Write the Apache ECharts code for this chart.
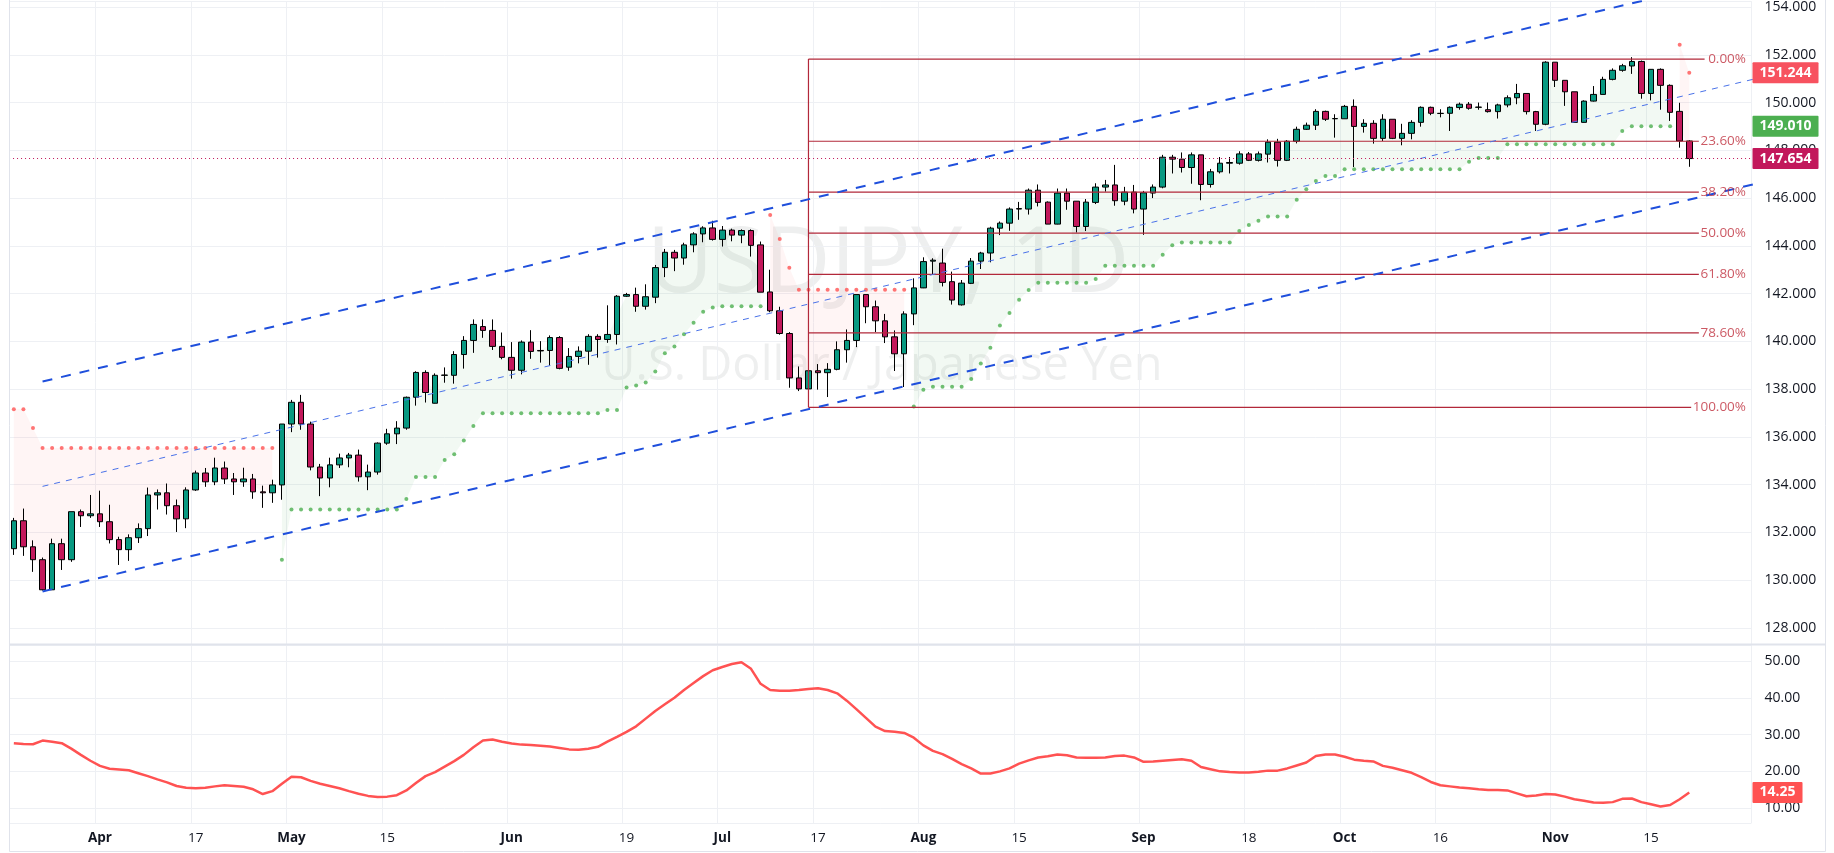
<!DOCTYPE html>
<html>
<head>
<meta charset="utf-8">
<script src="https://cdn.jsdelivr.net/npm/echarts@6/dist/echarts.min.js"></script>
<style>
  html, body { margin: 0; padding: 0; background: #fff; }
  #chart { width: 1834px; height: 853px; }
</style>
</head>
<body>
<div id="chart"></div>
<script>
// USDJPY daily, 21 Mar 2023 .. 21 Nov 2023 — [open, close, low, high]
const candles = [
  // Mar
  [131.32,132.49,131.06,132.61],[132.49,131.40,131.02,133.00],[131.40,130.86,130.35,131.67],
  [130.86,129.60,129.57,130.95],[129.60,131.53,129.60,131.74],[131.53,130.86,130.43,131.74],
  [130.86,132.87,130.77,132.87],[132.87,132.70,132.23,132.96],[132.70,132.78,132.61,133.57],
  // Apr
  [132.78,132.45,132.23,133.75],[132.45,131.70,131.54,133.16],[131.70,131.28,130.64,131.82],
  [131.28,131.78,130.81,131.92],[131.78,132.16,131.56,132.38],[132.16,133.57,131.85,133.88],
  [133.57,133.66,132.96,133.80],[133.66,133.12,132.75,134.05],[133.12,132.57,132.02,133.38],
  [132.57,133.78,132.18,133.89],[133.78,134.49,133.74,134.59],[134.49,134.12,133.91,134.70],
  [134.12,134.70,133.98,135.13],[134.70,134.24,134.03,134.97],[134.24,134.12,133.57,134.49],
  [134.12,134.24,133.91,134.71],[134.24,133.70,133.41,134.45],[133.70,133.66,133.03,133.96],
  [133.66,133.99,133.24,134.21],[133.99,136.54,133.37,136.54],
  // May
  [136.54,137.45,136.20,137.55],[137.45,136.54,136.30,137.76],[136.54,134.74,134.60,136.64],
  [134.74,134.28,133.52,134.87],[134.28,134.83,133.89,135.13],[134.83,135.12,134.70,135.30],
  [135.12,135.24,134.73,135.33],[135.24,134.33,134.13,135.47],[134.33,134.53,133.77,134.84],
  [134.53,135.74,134.42,135.77],[135.74,136.13,135.67,136.34],[136.13,136.37,135.70,136.66],
  [136.37,137.66,136.30,137.69],[137.66,138.70,137.31,138.75],[138.70,137.86,137.44,138.79],
  [137.41,138.58,137.40,138.66],[138.58,138.59,138.27,138.91],[138.58,139.45,138.23,139.59],
  [139.45,140.04,138.86,140.22],[140.04,140.71,139.52,140.92],[140.62,140.46,140.15,140.92],
  [140.46,139.79,139.64,140.92],[139.79,139.33,139.25,140.37],
  // Jun
  [139.33,138.79,138.44,139.97],[138.79,139.97,138.62,140.04],[139.97,139.58,139.27,140.47],
  [139.62,139.60,139.11,140.01],[139.62,140.16,138.99,140.25],[140.16,138.87,138.83,140.22],
  [138.92,139.37,138.77,139.72],[139.37,139.59,139.08,139.79],[139.59,140.21,139.02,140.30],
  [140.21,140.08,139.32,140.30],[140.08,140.29,139.94,141.51],[140.29,141.89,139.87,141.94],
  [141.89,141.96,141.86,142.03],[141.96,141.47,141.24,142.25],[141.47,141.87,141.33,142.39],
  [141.85,143.09,141.60,143.20],[143.09,143.73,142.69,143.87],[143.73,143.49,142.94,143.83],
  [143.49,144.04,143.21,144.13],[144.04,144.50,143.73,144.57],[144.50,144.75,144.15,144.82],
  [144.75,144.27,144.22,145.05],
  // Jul
  [144.27,144.66,143.97,144.83],[144.66,144.45,144.19,144.72],[144.45,144.64,144.11,144.69],
  [144.64,144.02,143.55,144.69],[144.04,142.06,142.06,144.18],[142.07,141.28,141.22,143.00],
  [141.28,140.33,140.28,141.45],[140.33,138.47,138.06,140.39],[138.47,138.01,137.92,138.95],
  [138.01,138.77,137.25,139.16],[138.77,138.69,137.98,139.05],[138.69,138.83,137.67,139.09],
  [138.83,139.65,138.79,140.00],[139.65,140.04,139.11,140.50],[140.04,141.96,139.76,141.96],
  [141.96,141.45,140.76,141.96],[141.45,140.86,140.39,141.71],[140.86,140.19,139.93,141.15],
  [140.19,139.48,138.76,140.46],[139.48,141.15,138.09,141.26],[141.15,142.24,140.68,142.64],
  // Aug
  [142.24,143.34,142.23,143.52],[143.36,143.40,142.82,143.48],[143.28,142.47,142.30,143.88],
  [142.50,141.73,141.54,142.92],[141.53,142.44,141.50,142.57],[142.43,143.36,142.40,143.49],
  [143.36,143.70,143.03,143.75],[143.70,144.74,143.31,144.80],[144.74,144.95,144.45,145.02],
  [144.95,145.54,144.63,145.61],[145.54,145.56,145.09,145.84],[145.54,146.33,145.31,146.40],
  [146.33,145.82,145.65,146.57],[145.83,144.91,144.91,145.86],[144.91,146.21,144.90,146.40],
  [146.21,145.87,145.51,146.40],[145.87,144.81,144.56,145.87],[144.81,145.83,144.62,145.96],
  [145.82,146.46,145.75,146.62],[146.46,146.55,146.27,146.76],[146.55,145.89,145.68,147.39],
  [145.87,146.25,145.70,146.47],[146.25,145.54,145.36,146.55],
  // Sep
  [145.54,146.22,144.46,146.30],[146.21,146.46,146.00,146.57],[146.46,147.71,146.41,147.81],
  [147.71,147.63,147.03,147.81],[147.63,147.28,147.07,147.91],[147.28,147.81,146.60,147.91],
  [147.81,146.57,145.91,147.81],[146.57,147.10,146.44,147.22],[147.10,147.46,147.03,147.72],
  [147.46,147.49,147.03,147.72],[147.46,147.85,147.40,147.96],[147.85,147.58,147.55,147.93],
  [147.58,147.85,147.53,147.95],[147.84,148.34,147.49,148.46],[148.34,147.58,147.32,148.48],
  [147.58,148.38,147.55,148.43],[148.38,148.88,148.29,148.99],[148.88,149.05,148.85,149.16],
  [149.05,149.63,148.85,149.72],[149.63,149.30,149.23,149.66],[149.32,149.33,148.53,149.51],
  // Oct
  [149.32,149.84,149.32,149.90],[149.84,149.00,147.30,150.13],[149.00,149.13,148.74,149.30],
  [149.13,148.50,148.28,149.26],[148.50,149.30,148.39,149.51],[149.30,148.50,148.47,149.30],
  [148.50,148.71,148.21,149.11],[148.71,149.17,148.46,149.26],[149.17,149.80,148.99,149.84],
  [149.80,149.55,149.47,149.83],[149.54,149.55,149.38,149.72],[149.55,149.80,148.81,149.84],
  [149.79,149.93,149.70,150.00],[149.93,149.76,149.70,150.02],[149.80,149.81,149.70,150.00],
  [149.70,149.62,149.58,150.00],[149.62,149.90,149.33,149.95],[149.90,150.20,149.80,150.30],
  [150.20,150.38,149.93,150.78],[150.38,149.62,149.50,150.38],[149.62,149.09,148.81,149.65],
  [149.09,151.69,149.05,151.73],
  // Nov
  [151.69,150.93,150.65,151.69],[150.93,150.45,149.86,150.93],[150.45,149.17,149.16,150.45],
  [149.17,150.06,149.16,150.09],[150.06,150.34,150.04,150.69],[150.34,150.97,150.34,151.08],
  [150.97,151.35,150.93,151.43],[151.35,151.54,151.29,151.62],[151.53,151.72,151.20,151.90],
  [151.72,150.38,150.16,151.76],[150.38,151.39,150.09,151.39],[151.39,150.72,149.70,151.43],
  [150.72,149.59,149.23,150.76],[149.63,148.39,148.11,149.99],[148.39,147.654,147.31,148.42]
];

// trailing stop dots (null = not active)
const N = null;
const stopUp = [
  N,N,N,N,N,N,N,N,N, N,N,N,N,N,N,N,N,N,N, N,N,N,N,N,N,N,N,N,
  130.86, 132.96,132.96,132.96,132.96,132.96,132.96,132.96,132.96,132.96,132.96,132.96,132.96,
  133.40, 134.32,134.32,134.32, 135.03, 135.27, 135.85, 136.46,
  136.99,136.99,136.99,136.99,136.99,136.99,136.99,136.99,136.99,136.99,136.99,136.99,136.99,
  137.13,137.13, 138.07, 138.15, 138.28, 138.74, 139.50, 139.79, 140.30, 140.78, 141.24, 141.42,
  141.47,141.47,141.47,141.47,141.47,
  N,N,N,N,N,N,N,N,N,N,N,N,N,N,N,
  137.27, 137.98, 138.10,138.10,138.10,138.10, 138.43, 139.07, 139.73, 140.66, 141.19, 141.74, 142.15,
  142.45,142.45,142.45,142.45,142.45,142.45, 142.61,
  143.17,143.17,143.17,143.17,143.17,143.17, 143.63, 144.03,
  144.14,144.14,144.14,144.14,144.14,144.14, 144.62, 144.87, 145.05,
  145.23,145.23,145.23, 145.93, 146.37, 146.72, 146.92,146.92,
  147.21,147.21,147.21,147.21,147.21,147.21,147.21,147.21,147.21,147.21,147.21,147.21,147.21,
  147.52, 147.68,147.68,147.68,
  148.25,148.25,148.25,148.25,148.25,148.25,148.25,148.25,148.25,148.25,148.25,148.25,
  148.81, 149.01,149.01,149.01,149.01,149.01,
  N,N
];
const stopDown = [
  137.16,137.16,136.37,
  135.54,135.54,135.54,135.54,135.54,135.54,135.54,135.54,135.54,135.54,135.54,135.54,135.54,
  135.54,135.54,135.54,135.54,135.54,135.54,135.54,135.54,135.54,135.54,135.54,135.54,
  N,N,N,N,N,N,N,N,N,N, N,N,N,N,N,N,N,N,N,N, N,N,N,N,N,N,N,N,N,N,
  N,N,N,N,N,N,N,N,N,N, N,N,N,N,N,N,N,N,N,N, N,
  145.29, 144.29, 143.08,
  142.16,142.16,142.16,142.16,142.16,142.16,142.16,142.16,142.16,142.16,142.16,142.16,
  N,N,N,N,N,N,N,N,N,N, N,N,N,N,N,N,N,N,N,N, N,N,N,N,N,N,N,N,N,N, N,N,N,N,N,N,N,N,N,N,
  N,N,N,N,N,N,N,N,N,N, N,N,N,N,N,N,N,N,N,N, N,N,N,N,N,N,N,N,N,N, N,N,N,N,N,N,N,N,N,N,
  152.42, 151.244
];

// ADX (lower pane)
const adx = [
  27.7,27.5,27.4,28.4,28.1,27.7,26.2,24.5,22.9,
  21.5,20.7,20.5,20.3,19.5,18.7,17.8,17.0,16.0,15.5,
  15.4,15.5,15.9,16.2,16.0,15.8,15.1,13.8,14.6,16.6,
  18.5,18.4,17.4,16.6,16.0,15.4,14.6,13.9,13.3,13.0,
  13.1,13.5,14.8,16.8,18.7,19.8,21.3,22.8,24.5,26.6,
  28.4,28.7,28.1,27.6,27.3,27.2,27.0,26.8,26.4,26.0,
  25.9,26.2,26.7,28.1,29.4,30.8,32.3,34.4,36.5,38.3,
  40.1,42.2,44.1,46.0,47.6,48.5,49.3,49.8,48.0,43.9,
  42.2,42.0,42.0,42.2,42.5,42.7,42.2,41.3,39.3,37.0,
  34.6,32.2,31.0,30.8,30.5,29.2,27.1,25.6,24.7,23.4,
  22.0,20.8,19.4,19.4,20.0,20.8,22.1,23.0,23.8,24.1,
  24.6,24.4,23.8,23.7,23.7,23.8,24.2,24.3,23.8,22.6,
  22.7,22.9,23.1,23.3,22.9,21.2,20.6,20.0,19.8,19.7,
  19.7,19.9,20.2,20.2,20.8,21.6,22.4,24.2,24.6,24.6,
  24.0,23.2,22.9,22.7,21.5,21.0,20.3,19.6,18.4,17.1,
  16.2,15.9,15.6,15.4,15.1,14.9,14.9,14.8,14.0,13.2,
  13.4,13.8,13.7,13.1,12.4,12.0,11.5,11.4,11.6,12.5,
  12.6,11.6,11.0,10.4,10.8,12.4,14.25
];

// time axis labels
const tickDates = ['2023-04-03','2023-04-17','2023-05-01','2023-05-15','2023-06-01','2023-06-19',
  '2023-07-03','2023-07-17','2023-08-01','2023-08-15','2023-09-01','2023-09-18',
  '2023-10-02','2023-10-16','2023-11-01','2023-11-15'];
const tickTexts = ['Apr','17','May','15','Jun','19','Jul','17','Aug','15','Sep','18','Oct','16','Nov','15'];

// drawings (x = trading-day number, 0 = 3 Apr)
const channelLower = [[-6, 129.53], [176, 146.89]];
const channelMid = [[-6, 133.93], [176, 151.29]];
const channelUpper = [[-6, 138.32], [176, 155.68]];
const fibHigh = 151.82, fibLow = 137.24, fibStartDay = 74;
const fibRatios = [0, 0.236, 0.382, 0.5, 0.618, 0.786, 1];
const fibTexts = ['0.00%', '23.60%', '38.20%', '50.00%', '61.80%', '78.60%', '100.00%'];
const fibEndDay = [167.6, 167.0, 167.0, 167.0, 167.0, 167.0, 166.2];
const lastPrice = 147.654, stopLevel = 149.010, sarNext = 151.244, adxLast = 14.25;

const padSlots = 6;
const firstDay = -9;

if (candles.length !== 176 || stopUp.length !== 176 || stopDown.length !== 176 || adx.length !== 176) {
  throw new Error('length ' + candles.length + ' ' + stopUp.length + ' ' + stopDown.length + ' ' + adx.length);
}

function weekdays(from, count) {
  const out = [];
  const d = new Date(from + 'T00:00:00Z');
  while (out.length < count) {
    const wd = d.getUTCDay();
    if (wd !== 0 && wd !== 6) out.push(d.toISOString().slice(0, 10));
    d.setUTCDate(d.getUTCDate() + 1);
  }
  return out;
}
const days = weekdays('2023-03-21', candles.length + padSlots);
const tickMap = {};
tickDates.forEach((d, k) => { tickMap[d] = tickTexts[k]; });
const isTick = (idx, val) => tickMap[val] !== undefined;

const bodyMid = candles.map(c => (c[0] + c[1]) / 2);
const dash = v => (v == null ? '-' : v);

const FONT = "'Open Sans', 'Noto Sans', sans-serif";
const TXT = '#131722';
const GRIDC = '#eef0f4';
const UP = '#089981', DOWN = '#c2185b';
const FIB = '#b2283a', FIBTXT = '#bf2f3d';
const CH = '#1f4fdc';
const HIDDEN = { color: 'rgba(0,0,0,0)', width: 0 };

const chart = echarts.init(document.getElementById('chart'));

const seriesList = [];

// fills between stop dots and candle body middle
seriesList.push({
  type: 'line', xAxisIndex: 0, yAxisIndex: 0, stack: 'dn', symbol: 'none', silent: true,
  lineStyle: { opacity: 0 }, z: 1,
  data: stopDown.map((v, i) => (v == null ? '-' : bodyMid[i]))
});
seriesList.push({
  type: 'line', xAxisIndex: 0, yAxisIndex: 0, stack: 'dn', symbol: 'none', silent: true,
  lineStyle: { opacity: 0 }, areaStyle: { color: 'rgba(255,82,82,0.06)', opacity: 1 }, z: 1,
  data: stopDown.map((v, i) => (v == null ? '-' : v - bodyMid[i]))
});
seriesList.push({
  type: 'line', xAxisIndex: 0, yAxisIndex: 0, stack: 'up', symbol: 'none', silent: true,
  lineStyle: { opacity: 0 }, z: 1,
  data: stopUp.map(v => dash(v))
});
seriesList.push({
  type: 'line', xAxisIndex: 0, yAxisIndex: 0, stack: 'up', symbol: 'none', silent: true,
  lineStyle: { opacity: 0 }, areaStyle: { color: 'rgba(76,175,80,0.07)', opacity: 1 }, z: 1,
  data: stopUp.map((v, i) => (v == null ? '-' : bodyMid[i] - v))
});

// stop dots
seriesList.push({
  type: 'scatter', xAxisIndex: 0, yAxisIndex: 0, symbolSize: 4, z: 3, silent: true,
  itemStyle: { color: '#4caf50' }, data: stopUp.map(v => dash(v))
});
seriesList.push({
  type: 'scatter', xAxisIndex: 0, yAxisIndex: 0, symbolSize: 4, z: 3, silent: true,
  itemStyle: { color: '#ff5252' }, data: stopDown.map(v => dash(v))
});

const tagLabel = {
  show: true, position: 'end', distance: 1, color: '#fff', fontWeight: 'bold', fontSize: 14,
  fontFamily: FONT, padding: [4, 7, 3, 7], borderRadius: 1
};

// candles + price tags
seriesList.push({
  type: 'candlestick', xAxisIndex: 0, yAxisIndex: 0, barWidth: 6, z: 4,
  itemStyle: {
    color: UP, color0: DOWN, borderColor: '#000', borderColor0: '#000',
    borderColorDoji: '#000', borderWidth: 1
  },
  data: candles,
  markLine: {
    symbol: ['none', 'none'], silent: true, animation: false, precision: 3, z: 10,
    data: [
      { yAxis: sarNext, lineStyle: HIDDEN,
        label: Object.assign({}, tagLabel, { backgroundColor: '#f7525f', formatter: sarNext.toFixed(3) }) },
      { yAxis: stopLevel, lineStyle: HIDDEN,
        label: Object.assign({}, tagLabel, { backgroundColor: '#4caf50', formatter: stopLevel.toFixed(3) }) },
      { yAxis: lastPrice, lineStyle: { color: DOWN, type: [1, 3], width: 1 },
        label: Object.assign({}, tagLabel, { backgroundColor: DOWN, formatter: lastPrice.toFixed(3) }) }
    ]
  }
});

// regression channel
[[channelUpper, 2, [10, 9]], [channelMid, 1, [6, 6]], [channelLower, 2, [10, 9]]].forEach(([pts, w, d]) => {
  seriesList.push({
    type: 'line', xAxisIndex: 2, yAxisIndex: 0, symbol: 'none', silent: true, z: 6,
    lineStyle: { color: w === 1 ? '#4a72e8' : CH, width: w, type: d },
    data: pts
  });
});

// fibonacci retracement
const fibPrices = fibRatios.map(r => fibHigh - (fibHigh - fibLow) * r);
fibPrices.forEach((p, k) => {
  seriesList.push({
    type: 'line', xAxisIndex: 2, yAxisIndex: 0, symbol: 'none', silent: true, z: 5,
    lineStyle: { color: FIB, width: 1.2 },
    data: [[fibStartDay, p], [fibEndDay[k], p]]
  });
});
seriesList.push({
  type: 'line', xAxisIndex: 2, yAxisIndex: 0, symbol: 'none', silent: true, z: 5,
  lineStyle: { color: FIB, width: 1.2 },
  data: [[fibStartDay, fibLow], [fibStartDay, fibHigh]]
});
seriesList.push({
  type: 'scatter', xAxisIndex: 2, yAxisIndex: 0, symbolSize: 1, clip: false, silent: true, z: 7,
  itemStyle: { color: 'rgba(0,0,0,0)' },
  label: {
    show: true, position: 'left', distance: 5, color: FIBTXT, fontSize: 13.5, fontFamily: FONT,
    formatter: p => fibTexts[p.dataIndex]
  },
  data: fibPrices.map(p => [172.5, p])
});

// ADX
seriesList.push({
  type: 'line', xAxisIndex: 1, yAxisIndex: 1, symbol: 'none', silent: true, z: 4,
  lineStyle: { color: '#ff5252', width: 2.5 },
  data: adx,
  markLine: {
    symbol: ['none', 'none'], silent: true, animation: false, precision: 2,
    data: [{ yAxis: adxLast, lineStyle: HIDDEN,
      label: Object.assign({}, tagLabel, { backgroundColor: '#ff5252', formatter: adxLast.toFixed(2) }) }]
  }
});

const gridLeft = 9.05, gridRight = 82.5;

const option = {
  animation: false,
  textStyle: { fontFamily: FONT },
  graphic: [
    { type: 'text', z: -10, silent: true, x: 888, y: 266,
      style: { text: 'USDJPY, 1D', textAlign: 'center', textVerticalAlign: 'middle',
        font: "92px 'Open Sans', sans-serif", fill: 'rgba(19,23,34,0.07)' } },
    { type: 'text', z: -10, silent: true, x: 882, y: 367,
      style: { text: 'U.S. Dollar / Japanese Yen', textAlign: 'center', textVerticalAlign: 'middle',
        font: "47px 'Open Sans', sans-serif", fill: 'rgba(19,23,34,0.07)' } },
    { type: 'line', silent: true, z: 20, shape: { x1: 9.5, y1: 644.5, x2: 1825.5, y2: 644.5 },
      style: { stroke: '#e0e3eb', lineWidth: 2 } },
    { type: 'rect', silent: true, z: 20, shape: { x: 9.5, y: -1, width: 1816, height: 852.5 },
      style: { fill: 'none', stroke: '#e0e3eb', lineWidth: 1 } }
  ],
  grid: [
    { left: gridLeft, right: gridRight, top: 0, height: 644 },
    { left: gridLeft, right: gridRight, top: 645, height: 178 }
  ],
  xAxis: [
    { type: 'category', gridIndex: 0, data: days, boundaryGap: true,
      axisLine: { show: false }, axisTick: { show: false }, axisLabel: { show: false },
      splitLine: { show: true, interval: isTick, lineStyle: { color: GRIDC } } },
    { type: 'category', gridIndex: 1, data: days, boundaryGap: true,
      axisLine: { show: false }, axisTick: { show: false },
      axisLabel: {
        interval: isTick, margin: 8, fontSize: 13.5, color: TXT, fontFamily: FONT,
        formatter: v => {
          const t = tickMap[v] || '';
          return /^[A-Z]/.test(t) ? '{b|' + t + '}' : t;
        },
        rich: { b: { fontWeight: 'bold', fontSize: 13.5, color: TXT, fontFamily: FONT } }
      },
      splitLine: { show: true, interval: isTick, lineStyle: { color: GRIDC } } },
    { type: 'value', gridIndex: 0, show: false, min: firstDay - 0.5, max: firstDay - 0.5 + candles.length + padSlots,
      splitLine: { show: false } }
  ],
  yAxis: [
    { type: 'value', gridIndex: 0, position: 'right', min: 127.33, max: 154.24,
      minInterval: 2, maxInterval: 2,
      axisLine: { show: false }, axisTick: { show: false },
      axisLabel: { margin: 13, fontSize: 14, color: TXT, fontFamily: FONT,
        showMinLabel: false, showMaxLabel: false, formatter: v => v.toFixed(3) },
      splitLine: { lineStyle: { color: GRIDC } } },
    { type: 'value', gridIndex: 1, position: 'right', min: 5.9, max: 54.5,
      minInterval: 10, maxInterval: 10,
      axisLine: { show: false }, axisTick: { show: false },
      axisLabel: { margin: 13, fontSize: 14, color: TXT, fontFamily: FONT,
        showMinLabel: false, showMaxLabel: false, formatter: v => v.toFixed(2) },
      splitLine: { lineStyle: { color: GRIDC } } }
  ],
  series: seriesList
};

chart.setOption(option);
</script>
</body>
</html>
